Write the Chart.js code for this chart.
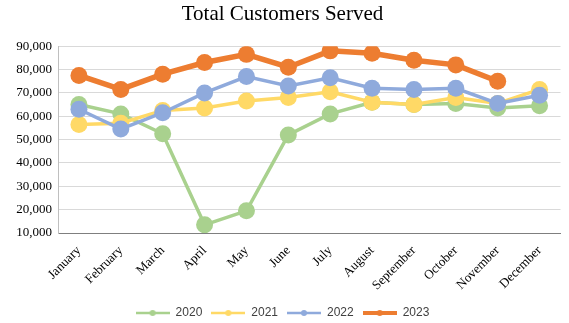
<!DOCTYPE html>
<html>
<head>
<meta charset="utf-8">
<script src="https://cdn.jsdelivr.net/npm/chart.js@4.4.0/dist/chart.umd.min.js"></script>
<style>
  html, body { margin: 0; padding: 0; background: #fff; }
  #myChart { display: block; }
</style>
</head>
<body>
<canvas id="myChart" width="569" height="323"></canvas>
<script>
const months = ['January', 'February', 'March', 'April', 'May', 'June', 'July',
    'August', 'September', 'October', 'November', 'December'];
const years = ['2020', '2021', '2022', '2023'];
const served2020 = [65000, 61000, 52500, 13500, 19500, 52000, 61000, 66000, 65000, 65500, 63500, 64500];
const served2021 = [56500, 57000, 62500, 63500, 66500, 68000, 70500, 66000, 65000, 68000, 65500, 71500];
const served2022 = [63000, 54500, 61500, 70000, 77000, 73000, 76500, 72000, 71500, 72000, 65500, 69000];
const served2023 = [77500, 71500, 78000, 83000, 86500, 81000, 88000, 87000, 84000, 82000, 75000, null];
const yTicks = [10000, 20000, 30000, 40000, 50000, 60000, 70000, 80000, 90000];

const colors = ['#a9d18e', '#ffd966', '#8faadc', '#ed7d31'];
const widths = [3.5, 3.5, 3.5, 5.5];
const series = [served2020, served2021, served2022, served2023];

function legendIcon(color, lw) {
    let c = document.createElement('canvas');
    c.width = 34;
    c.height = 10;
    let g = c.getContext('2d');
    g.strokeStyle = color;
    g.lineWidth = lw;
    g.beginPath();
    g.moveTo(0, 5);
    g.lineTo(34, 5);
    g.stroke();
    g.fillStyle = color;
    g.beginPath();
    g.arc(17, 5, 3, 0, Math.PI * 2);
    g.fill();
    return c;
}

const datasets = years.map((y, i) => ({
    label: y,
    data: series[i],
    borderColor: colors[i],
    backgroundColor: colors[i],
    borderWidth: widths[i],
    pointRadius: 8.5,
    pointBorderWidth: 0,
    pointHoverRadius: 8.5,
    order: years.length - i,
    tension: 0,
    icon: legendIcon(colors[i], i === 3 ? 4 : 2.5)
}));

const ctx = document.getElementById('myChart').getContext('2d');
const myChart = new Chart(ctx, {
    type: 'line',
    data: { labels: months, datasets: datasets },
    options: {
        responsive: false,
        animation: false,
        layout: { padding: { left: 0, right: 4, top: 0, bottom: -6 } },
        plugins: {
            title: {
                display: true,
                text: 'Total Customers Served',
                color: '#000',
                font: { family: '"Liberation Serif", "Times New Roman", serif', size: 21, weight: 'normal' },
                padding: { top: 2, bottom: 19 }
            },
            legend: {
                position: 'bottom',
                labels: {
                    usePointStyle: true,
                    pointStyleWidth: 34,
                    color: '#404040',
                    font: { family: '"Liberation Sans", Arial, sans-serif', size: 12 },
                    padding: 9,
                    generateLabels: chart => chart.data.datasets.map((ds, i) => ({
                        text: ds.label,
                        pointStyle: ds.icon,
                        fillStyle: ds.borderColor,
                        strokeStyle: ds.borderColor,
                        lineWidth: 0,
                        hidden: false,
                        datasetIndex: i,
                        fontColor: '#404040'
                    }))
                }
            },
            tooltip: { enabled: false }
        },
        scales: {
            x: {
                offset: true,
                grid: { display: false, drawTicks: false },
                border: { display: true, color: '#7f7f7f', width: 1 },
                ticks: {
                    color: '#000',
                    maxRotation: 45,
                    minRotation: 45,
                    autoSkip: false,
                    padding: 10,
                    font: { family: '"Liberation Serif", "Times New Roman", serif', size: 13 }
                },
                afterFit: scale => { scale.height = 65; }
            },
            y: {
                min: 10000,
                max: 90000,
                afterBuildTicks: scale => { scale.ticks = yTicks.map(v => ({ value: v })); },
                grid: { color: '#d9d9d9', drawTicks: false },
                border: { display: true, color: '#bfbfbf' },
                ticks: {
                    color: '#000',
                    padding: 6,
                    font: { family: '"Liberation Serif", "Times New Roman", serif', size: 13 },
                    callback: v => v.toLocaleString('en-US')
                },
                afterFit: scale => { scale.width = 58; }
            }
        }
    }
});
</script>
</body>
</html>
